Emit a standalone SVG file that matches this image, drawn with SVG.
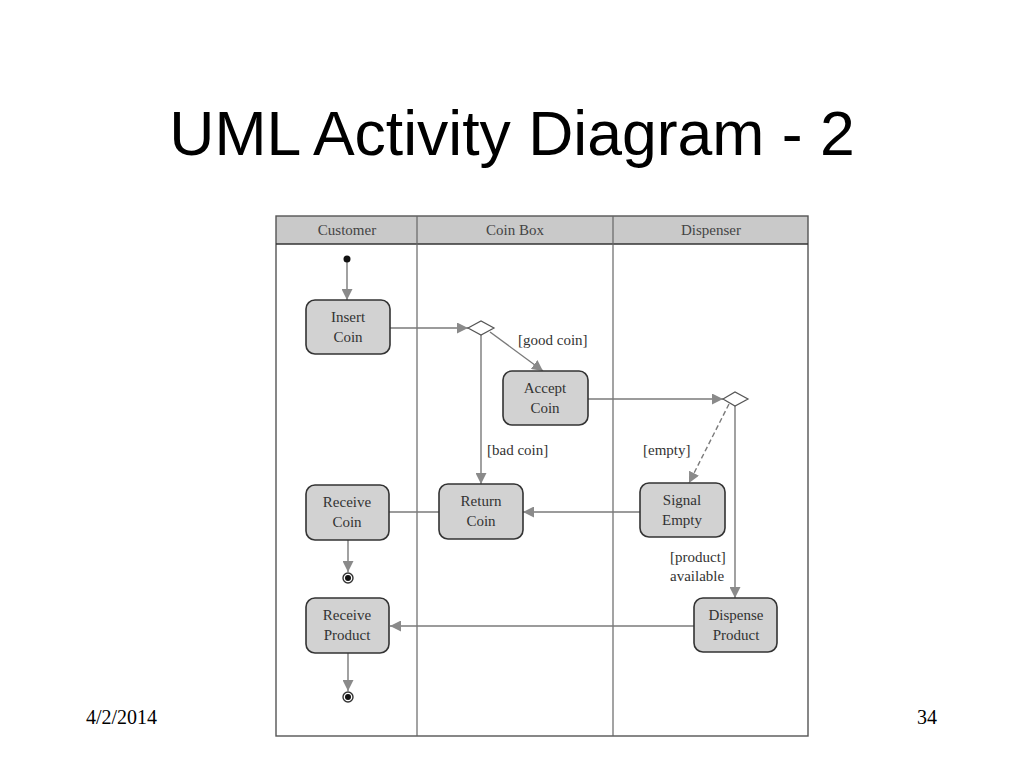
<svg xmlns="http://www.w3.org/2000/svg" width="1024" height="768" viewBox="0 0 1024 768">
<defs>
<marker id="ah" viewBox="0 0 10 10" refX="10" refY="5" markerWidth="11" markerHeight="11" markerUnits="userSpaceOnUse" orient="auto">
<path d="M0,0 L10,5 L0,10 Z" fill="#8a8a8a"/>
</marker>
<style>
.title{font-family:"Liberation Sans",Arial,sans-serif;font-size:62.5px;fill:#000}
.foot{font-family:"Liberation Serif","Times New Roman",serif;font-size:20px;fill:#000}
.hdr{font-family:"Liberation Serif","Times New Roman",serif;font-size:15px;fill:#444;text-anchor:middle}
.node rect{fill:#d2d2d2;stroke:#333;stroke-width:1.6}
.node text{font-family:"Liberation Serif","Times New Roman",serif;font-size:15px;fill:#333;text-anchor:middle}
.lbl{font-family:"Liberation Serif","Times New Roman",serif;font-size:15px;fill:#333}
.conn line,.conn path{stroke:#7a7a7a;stroke-width:1.4;fill:none}
.arr{marker-end:url(#ah)}
.dia{fill:#fff;stroke:#555;stroke-width:1.2}
</style>
</defs>
<rect width="1024" height="768" fill="#fff"/>
<text class="title" x="512" y="155" text-anchor="middle">UML Activity Diagram - 2</text>
<text class="foot" x="86" y="724">4/2/2014</text>
<text class="foot" x="937" y="724" text-anchor="end">34</text>

<g id="swimlanes">
<rect x="276" y="216" width="532" height="28" fill="#c9c9c9"/>
<rect x="276" y="216" width="532" height="520" fill="none" stroke="#555" stroke-width="1.4"/>
<line x1="276" y1="244" x2="808" y2="244" stroke="#333" stroke-width="1.6"/>
<line x1="417" y1="216" x2="417" y2="736" stroke="#666" stroke-width="1.2"/>
<line x1="613" y1="216" x2="613" y2="736" stroke="#666" stroke-width="1.2"/>
<text class="hdr" x="347" y="235">Customer</text>
<text class="hdr" x="515" y="235">Coin Box</text>
<text class="hdr" x="711" y="235">Dispenser</text>
</g>

<g class="conn" id="connectors">
<line class="arr" x1="347" y1="260" x2="347" y2="300"/>
<line class="arr" x1="390" y1="328" x2="468" y2="328"/>
<line class="arr" x1="490" y1="332" x2="543" y2="371"/>
<line class="arr" x1="481" y1="335" x2="481" y2="484"/>
<line class="arr" x1="588" y1="399" x2="723" y2="399"/>
<line class="arr" x1="729" y1="404" x2="689" y2="483" stroke-dasharray="5,3"/>
<line class="arr" x1="735" y1="406" x2="735" y2="598"/>
<line class="arr" x1="640" y1="512" x2="523" y2="512"/>
<line x1="439" y1="512" x2="389" y2="512"/>
<line class="arr" x1="348" y1="540" x2="348" y2="572"/>
<line class="arr" x1="694" y1="626" x2="390" y2="626"/>
<line class="arr" x1="348" y1="653" x2="348" y2="691"/>
</g>

<g id="labels">
<text class="lbl" x="518" y="345">[good coin]</text>
<text class="lbl" x="487" y="455">[bad coin]</text>
<text class="lbl" x="643" y="455">[empty]</text>
<text class="lbl" x="670" y="562">[product]</text>
<text class="lbl" x="670" y="581">available</text>
</g>

<g id="start"><circle cx="347" cy="259" r="3.5" fill="#111"/></g>

<g id="decision1"><path class="dia" d="M468,328 L481,321 L494,328 L481,335 Z"/></g>
<g id="decision2"><path class="dia" d="M723,399 L735,392 L748,399 L735,406 Z"/></g>

<g class="node" id="insert-coin"><rect x="306" y="300" width="84" height="54" rx="9"/><text x="348" y="322">Insert</text><text x="348" y="342">Coin</text></g>
<g class="node" id="accept-coin"><rect x="503" y="371" width="85" height="54" rx="9"/><text x="545" y="393">Accept</text><text x="545" y="413">Coin</text></g>
<g class="node" id="return-coin"><rect x="439" y="484" width="84" height="55" rx="9"/><text x="481" y="506">Return</text><text x="481" y="526">Coin</text></g>
<g class="node" id="signal-empty"><rect x="640" y="483" width="85" height="54" rx="9"/><text x="682" y="505">Signal</text><text x="682" y="525">Empty</text></g>
<g class="node" id="receive-coin"><rect x="306" y="485" width="83" height="55" rx="9"/><text x="347" y="507">Receive</text><text x="347" y="527">Coin</text></g>
<g class="node" id="dispense-product"><rect x="694" y="598" width="83" height="54" rx="9"/><text x="736" y="620">Dispense</text><text x="736" y="640">Product</text></g>
<g class="node" id="receive-product"><rect x="306" y="598" width="83" height="55" rx="9"/><text x="347" y="620">Receive</text><text x="347" y="640">Product</text></g>

<g id="final1"><circle cx="348" cy="578" r="5" fill="#fff" stroke="#333" stroke-width="1.4"/><circle cx="348" cy="578" r="3" fill="#111"/></g>
<g id="final2"><circle cx="348" cy="697" r="5" fill="#fff" stroke="#333" stroke-width="1.4"/><circle cx="348" cy="697" r="3" fill="#111"/></g>
</svg>
